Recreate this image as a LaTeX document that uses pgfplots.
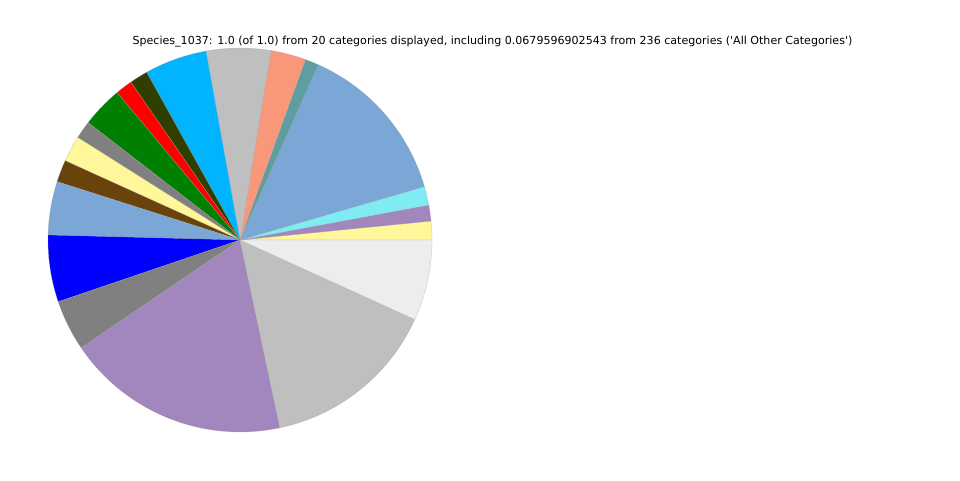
\documentclass[border=0pt]{standalone}
\usepackage{pgfplots}
\pgfplotsset{compat=1.18}
\usepackage{pgfplotstable}
\usepackage{fontspec}
\setmainfont{DejaVu Sans}

% slice colours
\definecolor{cYellow}{HTML}{FFF799}
\definecolor{cPurple}{HTML}{A287BE}
\definecolor{cCyan}{HTML}{7FEBF2}
\definecolor{cSteel}{HTML}{7BA7D7}
\definecolor{cTeal}{HTML}{5F9EA0}
\definecolor{cSalmon}{HTML}{F8977A}
\definecolor{cSilver}{HTML}{BFBFBF}
\definecolor{cSky}{HTML}{00B4FF}
\definecolor{cOlive}{HTML}{2E3F00}
\definecolor{cRed}{HTML}{FF0000}
\definecolor{cGreen}{HTML}{008000}
\definecolor{cGrey}{HTML}{808080}
\definecolor{cBrown}{HTML}{6A420C}
\definecolor{cBlue}{HTML}{0000FF}
\definecolor{cOther}{HTML}{EDEDED}

% fraction of the whole, counter-clockwise from 0 degrees
\pgfplotstableread{
frac    color
0.01575 cYellow
0.01344 cPurple
0.01567 cCyan
0.13820 cSteel
0.01156 cTeal
0.02956 cSalmon
0.05417 cSilver
0.05250 cSky
0.01542 cOlive
0.01431 cRed
0.03472 cGreen
0.01500 cGrey
0.02194 cYellow
0.01861 cBrown
0.04500 cSteel
0.05625 cBlue
0.04292 cGrey
0.18833 cPurple
0.14870 cSilver
0.06796 cOther
}\piedata

\begin{document}
\begin{tikzpicture}[x=0.75pt,y=0.75pt]
\useasboundingbox (0,0) rectangle (960,480);
\begin{axis}[
    at={(180pt,180pt)},
    anchor=center,
    width=288pt,
    height=288pt,
    scale only axis,
    xmin=-1, xmax=1,
    ymin=-1, ymax=1,
    hide axis,
    clip=false
  ]
  \pgfplotstablegetrowsof{\piedata}
  \pgfmathtruncatemacro\lastrow{\pgfplotsretval-1}
  \def\angA{0}
  \pgfplotsforeachungrouped \i in {0,...,\lastrow}{%
    \pgfplotstablegetelem{\i}{frac}\of{\piedata}%
    \pgfmathsetmacro\angB{\angA+360*\pgfplotsretval}%
    \pgfmathtruncatemacro\ns{max(2,ceil(\angB-\angA))+1}%
    \pgfplotstablegetelem{\i}{color}\of{\piedata}%
    \edef\temp{\noexpand\addplot[
        fill=\pgfplotsretval,
        draw=black!35,
        draw opacity=0.6,
        line width=0.25pt,
        domain=\angA:\angB,
        samples=\ns
      ] ({cos(x)},{sin(x)}) -- (axis cs:0,0) -- cycle;}%
    \temp
    \let\angA\angB
  }
\end{axis}
\node[anchor=base, font=\fontsize{8.3pt}{10pt}\selectfont] at (492.5,436)
  {Species\_1037: 1.0 (of 1.0) from 20 categories displayed, including 0.0679596902543 from 236 categories (\textquotesingle All Other Categories\textquotesingle)};
\end{tikzpicture}
\end{document}
